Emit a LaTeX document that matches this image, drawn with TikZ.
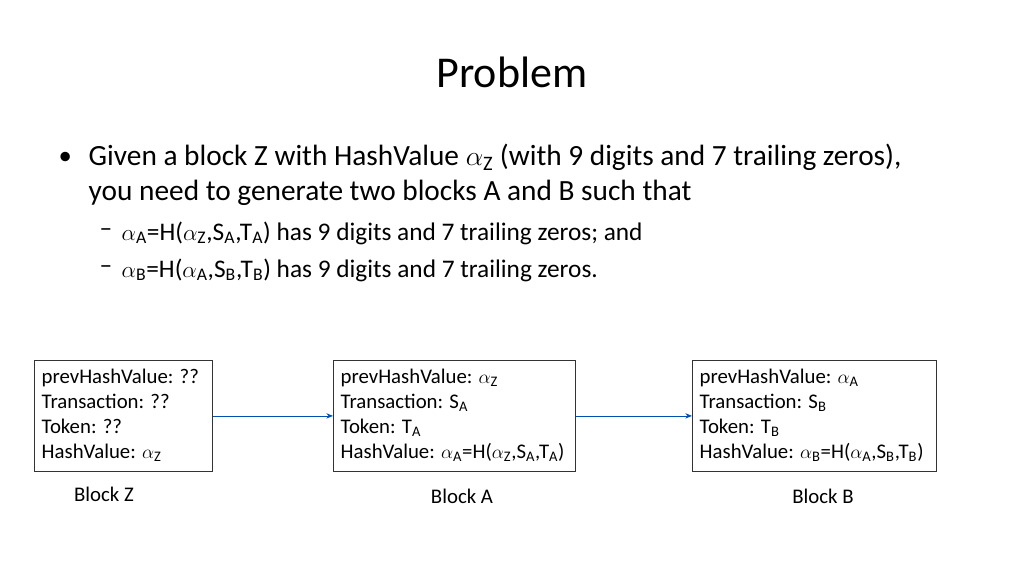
\documentclass[tikz,border=0pt]{standalone}
\usepackage{fontspec}
\setmainfont{Carlito}
\usetikzlibrary{arrows.meta}
\begin{document}
\begin{tikzpicture}[x=0.75pt,y=-0.75pt,
  blk/.style={draw=black!80,line width=0.6pt,minimum width=#1,minimum height=83.25pt,anchor=north west,inner sep=0pt},
  blktext/.style={anchor=north west,align=left,font=\fontsize{15.6}{18.75}\selectfont},
  lbl/.style={font=\fontsize{15.6}{18}\selectfont},
  arr/.style={-{Stealth[length=5pt,width=4pt]},draw=blue!55!cyan!70!black,line width=0.6pt}]
\useasboundingbox (0,0) rectangle (1024,576);
\node (title) at (512,72) {\fontsize{33}{40}\selectfont Problem};
\node[anchor=west] (b1) at (54,158) {\fontsize{20}{22}\selectfont •};
\node[anchor=west,align=left,font=\fontsize{22}{26}\selectfont] (t1) at (84,175) {Given a block Z with HashValue $\alpha_{\mathrm{Z}}$ (with 9 digits and 7 trailing zeros),\\you need to generate two blocks A and B such that};
\node[anchor=west,font=\fontsize{19}{18}\selectfont] (d1) at (95,233) {–};
\node[anchor=west,font=\fontsize{19}{18}\selectfont] (s1) at (117,233) {$\alpha_{\mathrm{A}}$=H($\alpha_{\mathrm{Z}}$,S$_{\mathrm{A}}$,T$_{\mathrm{A}}$) has 9 digits and 7 trailing zeros; and};
\node[anchor=west,font=\fontsize{19}{18}\selectfont] (d2) at (95,270) {–};
\node[anchor=west,font=\fontsize{19}{18}\selectfont] (s2) at (117,270) {$\alpha_{\mathrm{B}}$=H($\alpha_{\mathrm{A}}$,S$_{\mathrm{B}}$,T$_{\mathrm{B}}$) has 9 digits and 7 trailing zeros.};
\node[blk=133.5pt] (bz) at (34,360) {};
\node[blk=181.5pt] (ba) at (333,360) {};
\node[blk=183pt] (bb) at (692,360) {};
\node[blktext] (tz) at (37,364) {prevHashValue: ??\\Transaction: ??\\Token: ??\\HashValue: $\alpha_{\mathrm{Z}}$};
\node[blktext] (ta) at (336,364) {prevHashValue: $\alpha_{\mathrm{Z}}$\\Transaction: S$_{\mathrm{A}}$\\Token: T$_{\mathrm{A}}$\\HashValue: $\alpha_{\mathrm{A}}$=H($\alpha_{\mathrm{Z}}$,S$_{\mathrm{A}}$,T$_{\mathrm{A}}$)};
\node[blktext] (tb) at (695,364) {prevHashValue: $\alpha_{\mathrm{A}}$\\Transaction: S$_{\mathrm{B}}$\\Token: T$_{\mathrm{B}}$\\HashValue: $\alpha_{\mathrm{B}}$=H($\alpha_{\mathrm{A}}$,S$_{\mathrm{B}}$,T$_{\mathrm{B}}$)};
\draw[arr] (bz.east) -- (ba.west);
\draw[arr] (ba.east) -- (bb.west);
\node[lbl] (lz) at (104,494) {Block Z};
\node[lbl] (la) at (462,496) {Block A};
\node[lbl] (lb) at (823,496) {Block B};
\end{tikzpicture}
\end{document}
